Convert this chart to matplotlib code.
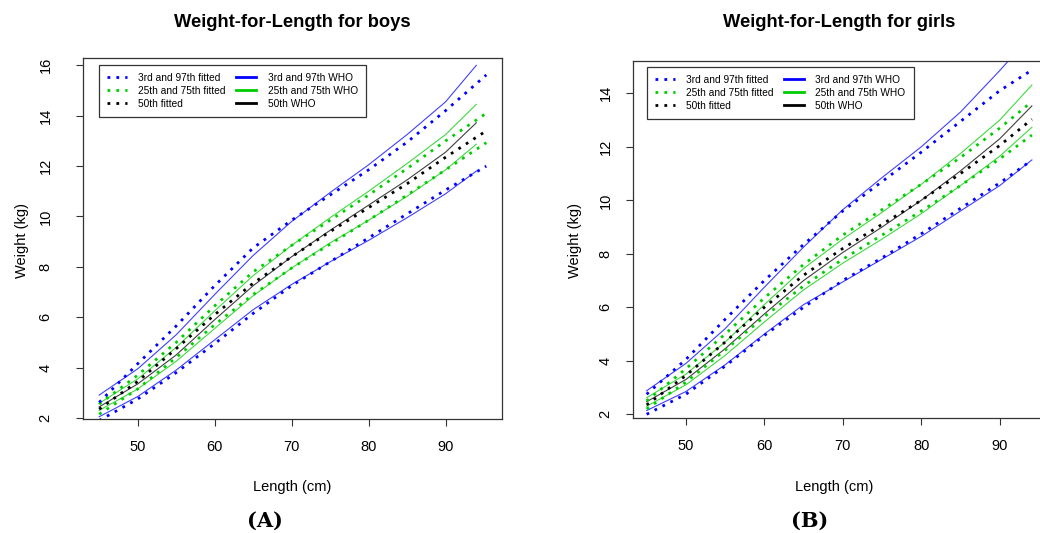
import numpy as np
import matplotlib.pyplot as plt
from matplotlib.lines import Line2D

plt.rcParams['font.family'] = ['Liberation Sans', 'DejaVu Sans']

# 男孩 WHO 曲线 (kg)
boys_who_len = [45, 50, 55, 60, 65, 70, 75, 80, 85, 90, 94]
boys_who_p3 = [2.05, 2.85, 3.90, 5.10, 6.30, 7.30, 8.20, 9.05, 9.95, 10.90, 11.80]
boys_who_p25 = [2.30, 3.15, 4.25, 5.55, 6.85, 7.95, 8.95, 9.85, 10.80, 11.85, 12.87]
boys_who_p50 = [2.44, 3.35, 4.50, 5.90, 7.25, 8.40, 9.45, 10.45, 11.45, 12.55, 13.72]
boys_who_p75 = [2.58, 3.55, 4.80, 6.25, 7.65, 8.85, 9.95, 11.00, 12.10, 13.25, 14.45]
boys_who_p97 = [2.91, 3.95, 5.30, 6.90, 8.45, 9.80, 10.95, 12.05, 13.25, 14.55, 16.00]

# 男孩 拟合曲线
boys_fit_len = [45, 50, 55, 60, 65, 70, 75, 80, 85, 90, 95.3]
boys_fit_p3 = [1.90, 2.75, 3.80, 4.95, 6.15, 7.25, 8.20, 9.15, 10.10, 11.05, 12.00]
boys_fit_p25 = [2.15, 3.15, 4.40, 5.70, 6.90, 7.95, 8.90, 9.85, 10.85, 11.85, 12.93]
boys_fit_p50 = [2.35, 3.45, 4.75, 6.10, 7.35, 8.40, 9.40, 10.35, 11.30, 12.35, 13.40]
boys_fit_p75 = [2.55, 3.70, 5.00, 6.45, 7.80, 8.85, 9.85, 10.85, 11.90, 13.00, 14.10]
boys_fit_p97 = [2.62, 4.15, 5.65, 7.25, 8.75, 9.85, 10.85, 11.85, 12.95, 14.20, 15.62]

# 女孩 WHO 曲线
girls_who_len = [45, 50, 55, 60, 65, 70, 75, 80, 85, 90, 94.1]
girls_who_p3 = [2.14, 2.85, 3.85, 5.00, 6.10, 6.95, 7.80, 8.65, 9.60, 10.55, 11.51]
girls_who_p25 = [2.30, 3.10, 4.20, 5.45, 6.65, 7.65, 8.55, 9.50, 10.55, 11.65, 12.73]
girls_who_p50 = [2.47, 3.30, 4.45, 5.75, 7.00, 8.05, 9.00, 10.00, 11.10, 12.30, 13.53]
girls_who_p75 = [2.62, 3.50, 4.70, 6.10, 7.45, 8.55, 9.55, 10.60, 11.75, 13.00, 14.31]
girls_who_p97 = [2.88, 3.90, 5.20, 6.75, 8.25, 9.65, 10.85, 12.00, 13.30, 14.85, 16.20]

# 女孩 拟合曲线
girls_fit_len = [45, 50, 55, 60, 65, 70, 75, 80, 85, 90, 94.1]
girls_fit_p3 = [2.00, 2.75, 3.80, 4.95, 6.00, 7.00, 7.85, 8.75, 9.70, 10.65, 11.50]
girls_fit_p25 = [2.20, 3.20, 4.40, 5.65, 6.80, 7.80, 8.70, 9.60, 10.55, 11.55, 12.44]
girls_fit_p50 = [2.35, 3.45, 4.70, 6.00, 7.20, 8.20, 9.10, 10.00, 11.00, 12.05, 13.03]
girls_fit_p75 = [2.50, 3.70, 5.00, 6.35, 7.60, 8.70, 9.65, 10.60, 11.60, 12.70, 13.69]
girls_fit_p97 = [2.75, 4.05, 5.55, 7.00, 8.35, 9.60, 10.70, 11.80, 12.95, 14.10, 14.87]

legend_labels = ['3rd and 97th fitted', '25th and 75th fitted', '50th fitted',
                 '3rd and 97th WHO', '25th and 75th WHO', '50th WHO']

blue = '#0000ff'
green = '#00cd00'
black = '#000000'
dot = (0, (1, 2.2))

W, H = 1040, 533
fig = plt.figure(figsize=(W / 100, H / 100), dpi=100)


def panel(rect, xlim, ylim, yticks, who_x, who, fit_x, fit, leg_anchor, ypad):
    ax = fig.add_axes(rect)
    cols = [blue, green, black, green, blue]
    # WHO 实线
    for yv, c in zip(who, cols):
        ax.plot(who_x, yv, color=c, lw=0.8, alpha=0.75, solid_joinstyle='round')
    # 拟合虚线
    for yv, c in zip(fit, cols):
        ax.plot(fit_x, yv, color=c, lw=2.0, linestyle=dot, dash_capstyle='butt')
    ax.set_xlim(*xlim)
    ax.set_ylim(*ylim)
    ax.set_xticks([50, 60, 70, 80, 90])
    ax.set_yticks(yticks)
    ax.tick_params(direction='out', length=5, width=0.8, labelsize=10.5, color='#333333')
    ax.tick_params(axis='x', pad=10)
    ax.tick_params(axis='y', pad=ypad, labelrotation=90)
    for lab in ax.get_yticklabels():
        lab.set_va('center')
    for s in ax.spines.values():
        s.set_linewidth(0.9)
        s.set_color('#333333')
    handles = [Line2D([], [], color=blue, lw=2, linestyle=dot),
               Line2D([], [], color=green, lw=2, linestyle=dot),
               Line2D([], [], color=black, lw=2, linestyle=dot),
               Line2D([], [], color=blue, lw=2),
               Line2D([], [], color=green, lw=2),
               Line2D([], [], color=black, lw=2)]
    leg = ax.legend(handles, legend_labels, ncol=2, loc='upper left',
                    bbox_to_anchor=leg_anchor, borderaxespad=0, fontsize=7.3,
                    handlelength=2.0, handletextpad=1.1, columnspacing=1.0,
                    labelspacing=0.3, borderpad=0.8, fancybox=False,
                    framealpha=1, edgecolor='#333333')
    leg.get_frame().set_linewidth(0.9)
    return ax


ax1 = panel([83 / W, (H - 419) / H, 418.7 / W, 360.7 / H], (42.9, 97.3), (1.96, 16.28),
            [2, 4, 6, 8, 10, 12, 14, 16], boys_who_len,
            [boys_who_p3, boys_who_p25, boys_who_p50, boys_who_p75, boys_who_p97],
            boys_fit_len,
            [boys_fit_p3, boys_fit_p25, boys_fit_p50, boys_fit_p75, boys_fit_p97],
            (0.038, 0.982), 17)

ax2 = panel([633.3 / W, (H - 418.3) / H, 423.7 / W, 357.6 / H], (43.3, 97.3), (1.85, 15.22),
            [2, 4, 6, 8, 10, 12, 14], girls_who_len,
            [girls_who_p3, girls_who_p25, girls_who_p50, girls_who_p75, girls_who_p97],
            girls_fit_len,
            [girls_fit_p3, girls_fit_p25, girls_fit_p50, girls_fit_p75, girls_fit_p97],
            (0.032, 0.983), 10)

# 标题与轴标签
fig.text(292 / W, 1 - 22 / H, 'Weight-for-Length for boys', ha='center', va='center',
         fontsize=13.2, fontweight='bold')
fig.text(839 / W, 1 - 22 / H, 'Weight-for-Length for girls', ha='center', va='center',
         fontsize=13.2, fontweight='bold')
fig.text(292 / W, 1 - 487 / H, 'Length (cm)', ha='center', va='center', fontsize=10.5)
fig.text(834 / W, 1 - 487 / H, 'Length (cm)', ha='center', va='center', fontsize=10.5)
fig.text(22 / W, 1 - 240 / H, 'Weight (kg)', ha='center', va='center', fontsize=10.5, rotation=90)
fig.text(575 / W, 1 - 240 / H, 'Weight (kg)', ha='center', va='center', fontsize=10.5, rotation=90)
fig.text(265 / W, 1 - 521 / H, '(A)', ha='center', va='center', fontsize=15,
         fontweight='bold', family='DejaVu Serif')
fig.text(810 / W, 1 - 521 / H, '(B)', ha='center', va='center', fontsize=15,
         fontweight='bold', family='DejaVu Serif')

fig.savefig('out.png', dpi=100)
